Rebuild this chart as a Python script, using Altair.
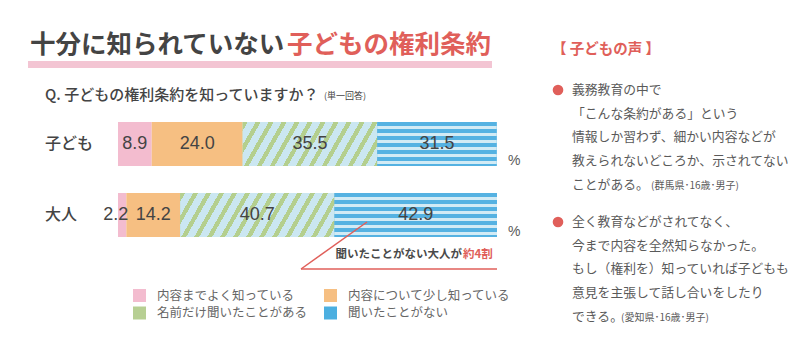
import math
import altair as alt
import pandas as pd

# ---------------- data ----------------
groups = ["子ども", "大人"]
categories = ["内容までよく知っている", "内容について少し知っている",
              "名前だけ聞いたことがある", "聞いたことがない"]
kids_values = [8.9, 24.0, 35.5, 31.5]
adult_values = [2.2, 14.2, 40.7, 42.9]
colors = ["#f3bccf", "#f6bf82", "#b7cf93", "#4cafe0"]

title_dark = "十分に知られていない"
title_red = "子どもの権利条約"
question = "Q. 子どもの権利条約を知っていますか？"
question_note = "(単一回答)"
callout_dark = "聞いたことがない大人が"
callout_red = "約4割"
voice_heading = "【 子どもの声 】"
voice1 = ["義務教育の中で", "「こんな条約がある」という",
          "情報しか習わず、細かい内容などが", "教えられないどころか、示されてない",
          "ことがある。"]
voice1_src = "(群馬県･16歳･男子)"
voice2 = ["全く教育などがされてなく、", "今まで内容を全然知らなかった。",
          "もし（権利を）知っていれば子どもも", "意見を主張して話し合いをしたり",
          "できる。"]
voice2_src = "(愛知県･16歳･男子)"

# ---------------- styles ----------------
JP = "Noto Sans CJK JP"
NUM = "Liberation Sans"
RED = "#e05f5a"
DARK = "#444444"
GREY = "#5a5a5a"
X0, X1 = 118, 497
BAR_H = 44

rows = []
for g, vals in zip(groups, [kids_values, adult_values]):
    s = 0.0
    for i, (c, v) in enumerate(zip(categories, vals)):
        rows.append(dict(group=g, category=c, order=i, value=v,
                         start=s, end=s + v, mid=s + v / 2))
        s += v
df = pd.DataFrame(rows)

xs = alt.Scale(domain=[0, 100], range=[X0, X1], nice=False, zero=False)
ys = alt.Scale(domain=groups, range=[122, 237], paddingInner=0.38, paddingOuter=0)
one = pd.DataFrame({"a": [0]})


def stripe_stops(n, frac, c_line, c_bg):
    stops = []
    k = 0
    while k / n < 1:
        t0 = k / n
        t1 = min((k + frac) / n, 1.0)
        t2 = min((k + 1) / n, 1.0)
        stops += [alt.GradientStop(color=c_line, offset=t0),
                  alt.GradientStop(color=c_line, offset=t1),
                  alt.GradientStop(color=c_bg, offset=t1),
                  alt.GradientStop(color=c_bg, offset=t2)]
        k += 1
    return stops


def enc(ch):
    return ch.encode(
        x=alt.X("start:Q", scale=xs, axis=None),
        x2="end:Q",
        y=alt.Y("group:N", scale=ys, axis=None),
    )


# legend is laid out column by column: order entries so rows read pink/orange, green/blue
legend_order = [categories[0], categories[2], categories[1], categories[3]]

bars = alt.Chart(df).mark_bar(strokeWidth=0).encode(
    x=alt.X("start:Q", scale=xs, axis=None),
    x2="end:Q",
    y=alt.Y("group:N", scale=ys, axis=None),
    color=alt.Color("category:N",
                    scale=alt.Scale(domain=categories, range=colors),
                    legend=alt.Legend(title=None, orient="none", legendX=133, legendY=289,
                                      columns=2, values=legend_order,
                                      symbolType="square", symbolSize=169,
                                      symbolStrokeWidth=0, symbolOpacity=1,
                                      labelFont=JP, labelFontSize=12.5, labelColor="#666666",
                                      labelOffset=11, rowPadding=4.5, columnPadding=16,
                                      labelLimit=300, padding=0)),
)

layers = [bars]

# diagonal green stripes (one gradient per segment: width differs)
TAN = 44 / 25
PERIOD = 13
for g, vals in zip(groups, [kids_values, adult_values]):
    v = vals[2]
    w = v * (X1 - X0) / 100
    r = TAN * w / BAR_H
    s = (r + 1) / (r * r + 1)
    n = w * (r + 1) / (r * PERIOD)
    grad = alt.Gradient(gradient="linear", x1=0, y1=0, x2=s * r, y2=s,
                        stops=stripe_stops(n, 0.38, "#b4cf8e", "#cbe7f1"))
    layers.append(enc(alt.Chart(df).transform_filter(
        (alt.datum.group == g) & (alt.datum.category == categories[2])
    ).mark_bar(fill=grad, strokeWidth=0)))

# horizontal blue stripes
grad_b = alt.Gradient(gradient="linear", x1=0, y1=0, x2=0, y2=1,
                      stops=stripe_stops(BAR_H / 7, 0.55, "#55b2e2", "#d2ebf5"))
layers.append(enc(alt.Chart(df).transform_filter(
    alt.datum.category == categories[3]).mark_bar(fill=grad_b, strokeWidth=0)))

# value labels
layers.append(alt.Chart(df).transform_filter(alt.datum.value >= 5).mark_text(
    font=NUM, fontSize=18, color=DARK, align="center", baseline="middle").encode(
    x=alt.X("mid:Q", scale=xs), y=alt.Y("group:N", scale=ys),
    text=alt.Text("value:Q", format=".1f")))
layers.append(alt.Chart(df).transform_filter(alt.datum.value < 5).mark_text(
    font=NUM, fontSize=18, color=DARK, align="right", baseline="middle", dx=2).encode(
    x=alt.X("end:Q", scale=xs), y=alt.Y("group:N", scale=ys),
    text=alt.Text("value:Q", format=".1f")))

# row labels and % signs
gdf = pd.DataFrame({"group": groups})
layers.append(alt.Chart(gdf).mark_text(font=JP, fontSize=16, fontWeight=500, color=DARK,
                                        align="left", baseline="middle").encode(
    x=alt.value(45), y=alt.Y("group:N", scale=ys), text="group:N"))
layers.append(alt.Chart(gdf).mark_text(text="%", font=NUM, fontSize=14, color=GREY,
                                        align="left", baseline="middle", dy=17).encode(
    x=alt.value(508), y=alt.Y("group:N", scale=ys)))


def label(text, x, y, size, color=GREY, weight="normal", align="left", font=JP):
    return alt.Chart(one).mark_text(text=text, font=font, fontSize=size, color=color,
                                    fontWeight=weight, align=align,
                                    baseline="middle").encode(x=alt.value(x), y=alt.value(y))


# title
layers.append(alt.Chart(one).mark_rect(color="#f3c5d3").encode(
    x=alt.value(28), x2=alt.value(492), y=alt.value(61), y2=alt.value(68)))
layers.append(label(title_dark, 30, 45, 25.5, DARK, "bold"))
layers.append(label(title_red, 287, 45, 25.5, RED, "bold"))
layers.append(label(question, 45, 95, 15, DARK, 500))
layers.append(label(question_note, 324, 96, 9, DARK))

# callout
layers.append(alt.Chart(one).mark_rule(color=RED, strokeWidth=1.5).encode(
    x=alt.value(367), y=alt.value(222), x2=alt.value(301), y2=alt.value(269)))
layers.append(alt.Chart(one).mark_rule(color=RED, strokeWidth=1.5).encode(
    x=alt.value(301), y=alt.value(269), x2=alt.value(497), y2=alt.value(269)))
layers.append(label(callout_dark, 462, 255, 11.5, "#4a4a4a", "bold", align="right"))
layers.append(label(callout_red, 463, 255, 11.5, RED, "bold"))

# right panel
layers.append(label(voice_heading, 552, 50, 14.5, RED, "bold"))
LH = 23.7
for lines, src, y0, srcx in [(voice1, voice1_src, 90, 651), (voice2, voice2_src, 222, 621)]:
    layers.append(alt.Chart(one).mark_circle(color=RED, size=113, opacity=1).encode(
        x=alt.value(558), y=alt.value(y0)))
    for i, t in enumerate(lines):
        layers.append(label(t, 572, y0 + i * LH, 12.8, GREY))
    layers.append(label(src, srcx, y0 + (len(lines) - 1) * LH + 1, 10, GREY))

chart = alt.layer(*layers).properties(
    width=800, height=342, padding=0, autosize="none", background="white"
).configure_view(stroke=None)

chart.save("out.html", embed_options={"renderer": "svg", "actions": False})
